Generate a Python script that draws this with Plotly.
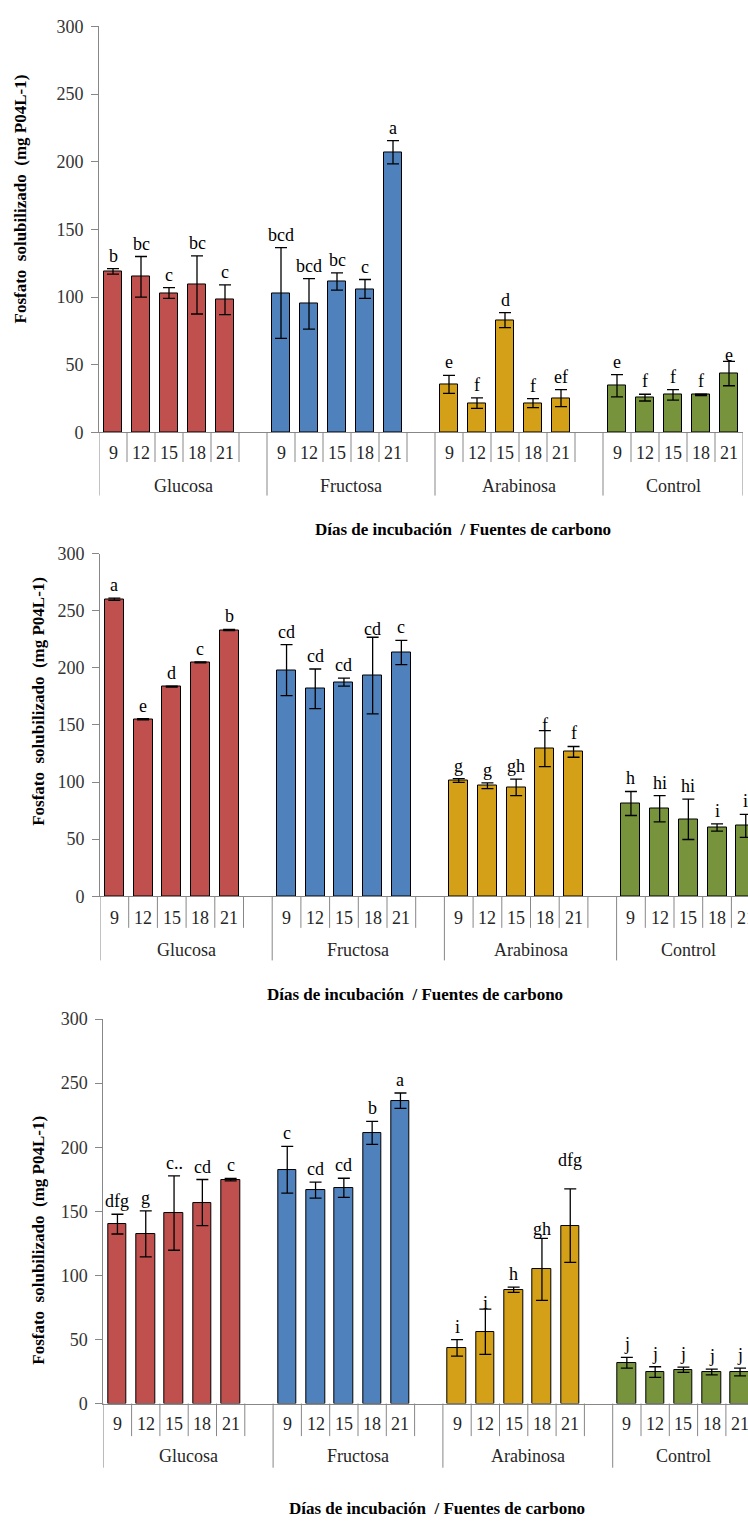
import plotly.graph_objects as go

W, H = 748, 1531
FONT = "'Liberation Serif', 'Times New Roman', 'DejaVu Serif', serif"
AXIS_GRAY = "#878787"

groups = ["Glucosa", "Fructosa", "Arabinosa", "Control"]
days = ["9", "12", "15", "18", "21"]
bar_colors = ["#C0504D", "#4F81BD", "#D4A017", "#77933C"]

# ---- panel 1 ----
p1_means = [[119, 115, 103, 109, 98],
            [103, 95, 111.5, 106, 207],
            [35.5, 21.6, 83, 21.6, 25.3],
            [34.5, 25.7, 27.7, 27.7, 43.5]]
p1_errs = [[2, 15, 4, 21.5, 11],
           [33.5, 18.6, 6.4, 7, 8.6],
           [6.7, 3.9, 5.5, 3.3, 6.3],
           [8.2, 2.5, 3.9, 0.5, 9]]
p1_letters = [["b", "bc", "c", "bc", "c"],
              ["bcd", "bcd", "bc", "c", "a"],
              ["e", "f", "d", "f", "ef"],
              ["e", "f", "f", "f", "e"]]

# ---- panel 2 ----
p2_means = [[260, 155, 183.5, 204.7, 233],
            [198, 181.6, 187.4, 193.2, 213.3],
            [101.3, 96.7, 95.3, 129.2, 126.4],
            [81.2, 76.6, 67.4, 60.2, 61.6]]
p2_errs = [[1, 0.5, 0.5, 0.5, 0.5],
           [22.3, 17.3, 3.5, 33.5, 10.6],
           [1.6, 2.5, 7.2, 15.8, 4.7],
           [10.5, 11.5, 17.7, 3.2, 10]]
p2_letters = [["a", "e", "d", "c", "b"],
              ["cd", "cd", "cd", "cd", "c"],
              ["g", "g", "gh", "f", "f"],
              ["h", "hi", "hi", "i", "i"]]

# ---- panel 3 ----
p3_means = [[140, 132.4, 148.6, 156.8, 174.7],
            [182.4, 166.5, 168.3, 211.2, 236.3],
            [43.4, 56, 88.8, 104.7, 138.8],
            [31.8, 24.6, 26.4, 24.6, 24.6]]
p3_errs = [[7.7, 18, 29, 18, 1],
           [18.3, 6.3, 7.5, 9, 6],
           [6.4, 17.7, 2, 24.2, 28.7],
           [4.2, 4.1, 2, 2.2, 3]]
p3_letters = [["dfg", "g", "c..", "cd", "c"],
              ["c", "cd", "cd", "b", "a"],
              ["i", "i", "h", "gh", "dfg"],
              ["j", "j", "j", "j", "j"]]

y_title = "Fosfato \u00a0solubilizado \u00a0(mg P04L-1)"
x_title = "Días de incubación \u00a0/ Fuentes de carbono"

# layout geometry of each panel (pixels)
panels = [
    dict(means=p1_means, errs=p1_errs, letters=p1_letters,
         x0=99, slot=28.0, ytop=16.7, ybot=428, cat_y=449, grp_y=482,
         short_end=458, long_end=492, xt_x=313, xt_y=526, yt_x=20, yt_y=192,
         shifts={(3, 4): -6}),
    dict(means=p2_means, errs=p2_errs, letters=p2_letters,
         x0=100, slot=28.7, ytop=550.7, ybot=898, cat_y=920, grp_y=952,
         short_end=930, long_end=963, xt_x=265, xt_y=998, yt_x=39, yt_y=701,
         shifts={(2, 3): -6, (1, 3): -4}),
    dict(means=p3_means, errs=p3_errs, letters=p3_letters,
         x0=103.3, slot=28.3, ytop=1022.4, ybot=1412, cat_y=1433, grp_y=1465,
         short_end=1445, long_end=1477, xt_x=287, xt_y=1518, yt_x=39, yt_y=1247,
         shifts={(2, 4): 17, (2, 1): -6, (2, 3): -3}),
]


def py(p):
    return 1 - p / H


def pxf(p):
    return p / W


N_SLOTS = 23  # 4 groups of 5 days, with a blank slot after the first three

fig = go.Figure()
annotations = []
shapes = []
layout = {}

for k, P in enumerate(panels, start=1):
    xa, ya = f"x{k}", f"y{k}"
    x_end_px = min(W, P["x0"] + N_SLOTS * P["slot"])
    x_range = [0, (x_end_px - P["x0"]) / P["slot"]]

    for g, grp in enumerate(groups):
        xs = [g * 6 + i + 0.5 for i in range(len(days))]
        fig.add_trace(go.Bar(
            x=xs, y=P["means"][g], width=0.66,
            marker=dict(color=bar_colors[g], line=dict(color="black", width=1)),
            error_y=dict(type="data", array=P["errs"][g], visible=True,
                         color="black", thickness=1.3, width=6),
            xaxis=xa, yaxis=ya, showlegend=False, hoverinfo="skip",
        ))
        for i, d in enumerate(days):
            top = P["means"][g][i] + P["errs"][g][i]
            annotations.append(dict(
                x=xs[i], y=top, xref=xa, yref=ya, text=P["letters"][g][i],
                showarrow=False, yanchor="bottom", xanchor="center",
                yshift=P["shifts"].get((g, i), 1),
                font=dict(family=FONT, size=18, color="black")))
            annotations.append(dict(
                x=xs[i], y=py(P["cat_y"]), xref=xa, yref="paper", text=d,
                showarrow=False, yanchor="middle", xanchor="center",
                font=dict(family=FONT, size=18, color="#262626")))
        annotations.append(dict(
            x=g * 6 + 2.5 + (0.5 if g < 3 else 0), y=py(P["grp_y"]), xref=xa, yref="paper",
            text=grp, showarrow=False, yanchor="middle", xanchor="center",
            font=dict(family=FONT, size=18, color="#262626")))

    # category and group dividers below the axis
    long_marks = {0, 6, 12, 18, 23}
    for b in range(0, N_SLOTS + 1):
        end = P["long_end"] if b in long_marks else P["short_end"]
        shapes.append(dict(type="line", xref=xa, yref="paper", x0=b, x1=b,
                           y0=py(P["ybot"]), y1=py(end),
                           line=dict(color=AXIS_GRAY, width=1)))

    annotations.append(dict(
        x=pxf(P["xt_x"]), y=py(P["xt_y"]), xref="paper", yref="paper",
        text=f"<b>{x_title}</b>", showarrow=False, xanchor="left", yanchor="middle",
        font=dict(family=FONT, size=17, color="black")))
    annotations.append(dict(
        x=pxf(P["yt_x"]), y=py(P["yt_y"]), xref="paper", yref="paper",
        text=f"<b>{y_title}</b>", showarrow=False, textangle=-90,
        xanchor="center", yanchor="middle",
        font=dict(family=FONT, size=17, color="black")))

    layout[f"xaxis{k}"] = dict(
        domain=[pxf(P["x0"]), pxf(x_end_px)], range=x_range, anchor=ya,
        showline=True, linecolor=AXIS_GRAY, linewidth=1, showgrid=False,
        zeroline=False, showticklabels=False, ticks="", fixedrange=True)
    layout[f"yaxis{k}"] = dict(
        domain=[py(P["ybot"]), py(P["ytop"])], range=[0, 300], anchor=xa,
        tickvals=[0, 50, 100, 150, 200, 250, 300],
        showline=True, linecolor=AXIS_GRAY, linewidth=1, showgrid=False,
        zeroline=False, ticks="outside", ticklen=7, tickcolor=AXIS_GRAY,
        ticklabelstandoff=4,
        tickfont=dict(family=FONT, size=18, color="#333333"), fixedrange=True)

fig.update_layout(
    width=W, height=H, margin=dict(l=0, r=0, t=0, b=0),
    paper_bgcolor="white", plot_bgcolor="white",
    font=dict(family=FONT),
    bargap=0, annotations=annotations, shapes=shapes, **layout)

fig.write_html("out.html")
